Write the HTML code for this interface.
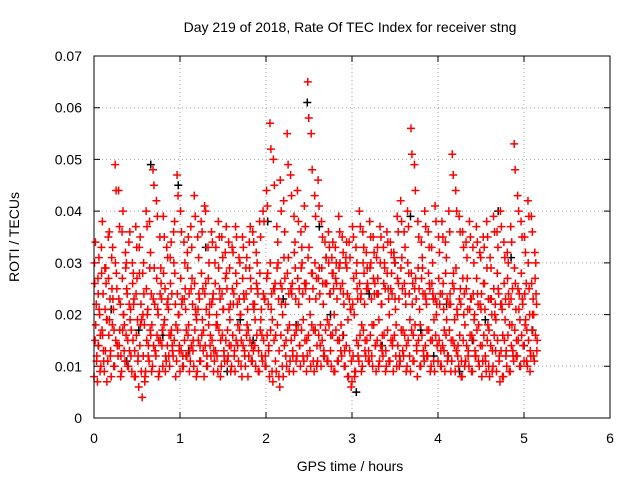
<!DOCTYPE html>
<html><head><meta charset="utf-8"><style>
html,body{margin:0;padding:0;background:#fff;}
svg{display:block;font-family:"Liberation Sans",sans-serif;}
</style></head><body>
<svg id="chart" width="640" height="480" viewBox="0 0 640 480">
<rect width="640" height="480" fill="#fff"/>
<text x="350" y="32" font-size="14" text-anchor="middle">Day 219 of 2018, Rate Of TEC Index for receiver stng</text>
<text transform="translate(19,237) rotate(-90)" font-size="14" text-anchor="middle">ROTI / TECUs</text>
<text x="350" y="471" font-size="14" text-anchor="middle">GPS time / hours</text>
<g id="grid"></g>
<g id="axes"></g>
<g id="marks"></g>
<rect x="94" y="56" width="516" height="362" fill="none" stroke="#000" stroke-width="1"/>
</svg>
<script>
const xTicks=[0,1,2,3,4,5,6];
const yTicks=[0,0.01,0.02,0.03,0.04,0.05,0.06,0.07];
const yTickLabels=["0","0.01","0.02","0.03","0.04","0.05","0.06","0.07"];
const timesList="0,0.04,0.08,0.12,0.16,0.2,0.24,0.28,0.32,0.36,0.4,0.44,0.48,0.52,0.56,0.6,0.64,0.68,0.72,0.76,0.8,0.84,0.88,0.92,0.96,1,1.04,1.08,1.12,1.16,1.2,1.24,1.28,1.32,1.36,1.4,1.44,1.48,1.52,1.56,1.6,1.64,1.68,1.72,1.76,1.8,1.84,1.88,1.92,1.96,2,2.04,2.08,2.12,2.16,2.2,2.24,2.28,2.32,2.36,2.4,2.44,2.48,2.52,2.56,2.6,2.64,2.68,2.72,2.76,2.8,2.84,2.88,2.92,2.96,3,3.04,3.08,3.12,3.16,3.2,3.24,3.28,3.32,3.36,3.4,3.44,3.48,3.52,3.56,3.6,3.64,3.68,3.72,3.76,3.8,3.84,3.88,3.92,3.96,4,4.04,4.08,4.12,4.16,4.2,4.24,4.28,4.32,4.36,4.4,4.44,4.48,4.52,4.56,4.6,4.64,4.68,4.72,4.76,4.8,4.84,4.88,4.92,4.96,5,5.04,5.08,5.12".split(",").map(Number);
const rotiA=[8,7,10,9,11,8,10,12,9,11,10,9,8,6,4,9,11,10,12,9,10,11,10,12,11,9,10,12,11,10,9,11,8,10,12,11,9,10,11,12,10,9,11,8,10,12,11,10,9,11,10,8,7,9,6,8,10,11,9,12,10,11,12,10,9,11,10,12,11,10,9,11,12,10,8,7,9,11,10,12,11,10,9,11,12,10,11,9,10,11,12,10,9,11,8,10,11,12,10,9,11,10,9,12,11,9,10,8,11,10,9,12,10,11,9,8,10,9,7,8,10,9,11,12,10,11,10,12,11];
const rotiB=[15,14,17,13,16,18,15,14,17,16,13,15,16,14,12,15,17,14,16,15,18,14,16,15,17,13,15,16,14,17,15,16,14,18,15,13,17,16,15,14,16,15,17,14,16,15,13,16,17,15,16,17,15,18,16,14,17,15,16,18,17,15,16,18,17,16,15,17,18,16,17,15,16,14,13,12,15,16,17,15,16,18,15,14,16,17,15,16,14,17,16,15,17,18,15,16,14,17,15,16,15,14,16,17,15,13,16,15,14,16,15,17,14,16,15,14,16,15,13,15,16,14,17,15,16,18,15,17,16];
const rotiC=[22,20,24,19,23,21,25,22,20,24,21,23,19,22,18,21,24,22,20,23,25,21,24,22,20,23,21,24,22,20,23,25,21,22,24,20,23,21,25,22,24,22,20,23,21,25,22,24,21,23,22,24,26,23,25,22,24,26,23,25,24,26,23,25,27,24,22,26,24,25,23,25,22,24,21,20,23,24,22,25,23,26,24,22,25,23,24,21,23,25,22,24,26,23,21,24,22,25,23,22,24,21,23,22,25,20,22,24,21,23,20,22,24,21,23,20,22,24,21,23,22,25,21,24,22,26,20,23,22];
const rotiD=[30,27,33,29,35,31,49,44,36,32,34,30,37,33,28,40,38,48,42,35,39,33,31,36,47,40,34,32,37,43,35,38,41,33,36,30,38,35,32,34,33,37,31,35,29,34,36,32,38,40,44,57,50,37,46,42,55,47,39,44,36,41,65,55,43,46,38,34,36,31,33,39,35,30,34,37,33,40,36,32,38,35,31,37,33,36,34,32,39,42,36,40,56,49,38,34,40,36,33,41,35,38,34,40,51,44,39,36,34,38,33,37,32,35,38,31,39,36,40,34,32,37,53,43,38,35,42,39,32];
const rotiE=[18,21,16,26,19,23,28,17,20,25,19,22,27,18,24,20,16,29,21,26,19,23,17,28,20,22,25,18,27,21,24,19,26,20,23,18,25,21,28,19,22,26,20,24,18,27,21,25,19,23,28,21,25,30,22,27,31,24,29,22,30,25,33,28,23,29,26,31,24,28,26,30,24,29,21,27,25,23,28,26,30,24,27,22,29,25,28,23,26,31,24,28,22,27,25,29,23,26,24,20,22,26,19,24,28,21,25,20,27,23,19,24,21,26,18,23,20,25,22,19,24,18,26,21,23,19,25,20,24];
const rotiF=[12,16,11,19,13,17,14,12,18,15,17,13,12,19,8,14,18,13,15,17,12,16,13,18,14,12,17,13,15,19,14,17,12,16,13,18,15,12,17,14,13,18,15,12,17,14,19,13,16,12,14,19,16,13,20,15,18,12,17,14,19,15,20,17,14,18,13,19,16,20,15,18,13,19,11,9,14,18,15,13,18,14,19,16,13,20,15,18,12,17,14,19,16,13,18,12,17,15,19,14,13,17,12,15,19,14,11,18,13,16,12,18,14,11,17,13,19,12,16,13,18,12,15,19,14,17,13,20,15];
const rotiG=[26,24,28,21,27,25,30,23,27,29,22,26,24,28,20,25,29,23,27,24,28,22,26,30,24,27,23,29,25,26,21,28,24,27,22,26,29,24,27,21,25,28,23,27,24,29,22,26,28,24,27,30,25,29,26,31,28,25,32,27,29,26,31,28,30,27,29,26,30,28,27,29,26,31,23,22,28,26,30,25,29,27,24,30,26,28,25,31,27,29,26,30,28,25,29,27,24,28,26,23,27,24,28,22,26,29,23,27,25,21,24,27,22,26,29,23,25,28,22,26,27,23,29,25,28,24,30,26,27];
const rotiH=[11,9,13,7,12,10,14,8,13,10,12,8,11,9,7,12,9,13,8,14,9,12,14,8,13,10,12,9,13,8,11,13,10,14,9,12,8,13,11,9,12,14,10,13,8,11,14,9,12,10,13,9,11,8,10,12,9,13,11,14,12,9,13,11,10,14,12,11,13,9,11,13,10,8,6,8,12,9,13,11,12,14,10,13,9,11,14,12,10,13,9,12,11,14,10,13,12,9,11,14,10,13,11,9,14,12,8,10,12,9,13,11,8,12,10,9,13,11,8,12,9,13,12,10,14,11,9,12,13];
const rotiI=[34,31,38,29,36,33,44,37,40,30,36,28,33,35,30,37,32,45,39,29,35,31,34,38,43,36,30,35,33,39,31,36,40,30,34,33,35,31,37,29,32,35,30,33,31,37,34,30,35,38,41,52,45,34,40,36,49,43,34,38,33,37,58,48,39,41,35,31,33,34,30,36,32,34,31,35,30,37,33,29,35,32,33,35,30,34,32,30,36,38,33,37,51,44,35,31,37,33,30,38,32,35,31,36,47,40,36,33,31,35,30,34,31,33,35,29,36,33,37,31,30,34,48,40,35,32,39,36,30];
const blackTimes=[0.05,0.2,0.38,0.52,0.66,0.8,0.98,1.1,1.3,1.55,1.7,1.85,2.02,2.2,2.35,2.48,2.62,2.75,2.9,3.05,3.2,3.35,3.5,3.68,3.8,3.95,4.1,4.25,4.4,4.55,4.7,4.85,5.0,5.1];
const blackVals=[14,21,11,17,49,16,45,13,33,9,19,15,38,23,18,61,37,20,16,5,24,14,30,39,17,12,22,9,15,19,40,31,14,17];
const S=[rotiA,rotiB,rotiC,rotiD,rotiE,rotiF,rotiG,rotiH,rotiI];
const shift=[0,0.013,0.026,0.006,0.02,0.033,0.009,0.03,0.017];
const X=t=>94+t*(516/6), Y=v=>418-v*(362/0.07);
const ns="http://www.w3.org/2000/svg";
const grid=document.getElementById('grid'),axes=document.getElementById('axes'),marks=document.getElementById('marks');
function el(tag,attrs,parent){const e=document.createElementNS(ns,tag);for(const k in attrs)e.setAttribute(k,attrs[k]);parent.appendChild(e);return e;}
xTicks.forEach(t=>{
 if(t>0&&t<6){const g=el('line',{x1:X(t),x2:X(t),y1:56,y2:418,stroke:'#a0a0a0','stroke-dasharray':'1,3'},grid);
 }
 const tk=el('path',{d:`M${X(t)},418v-6M${X(t)},56v6`,stroke:'#000'},axes);
 
 const tx=el('text',{x:X(t),y:443,'font-size':14,'text-anchor':'middle'},axes);tx.textContent=t;
 
});
yTicks.forEach((v,i)=>{
 if(i>0&&i<yTicks.length-1){const g=el('line',{x1:94,x2:610,y1:Y(v),y2:Y(v),stroke:'#a0a0a0','stroke-dasharray':'1,3'},grid);
 }
 const tk=el('path',{d:`M94,${Y(v)}h6M610,${Y(v)}h-6`,stroke:'#000'},axes);
 
 const tx=el('text',{x:82,y:Y(v)+5,'font-size':14,'text-anchor':'end'},axes);tx.textContent=yTickLabels[i];
 
});
function plus(t,v,color){
 const x=X(t),y=Y(v/1000);
 return el('path',{d:`M${x-4},${y}h8M${x},${y-4}v8`,stroke:color,'stroke-width':1.5,fill:'none'},marks);
}
blackTimes.forEach((t,i)=>{const p=plus(t,blackVals[i],'#000');
 });
S.forEach((arr,k)=>arr.forEach((v,i)=>{const p=plus(timesList[i]+shift[k],v,'#ff0000');
 }));
</script>
</body></html>
